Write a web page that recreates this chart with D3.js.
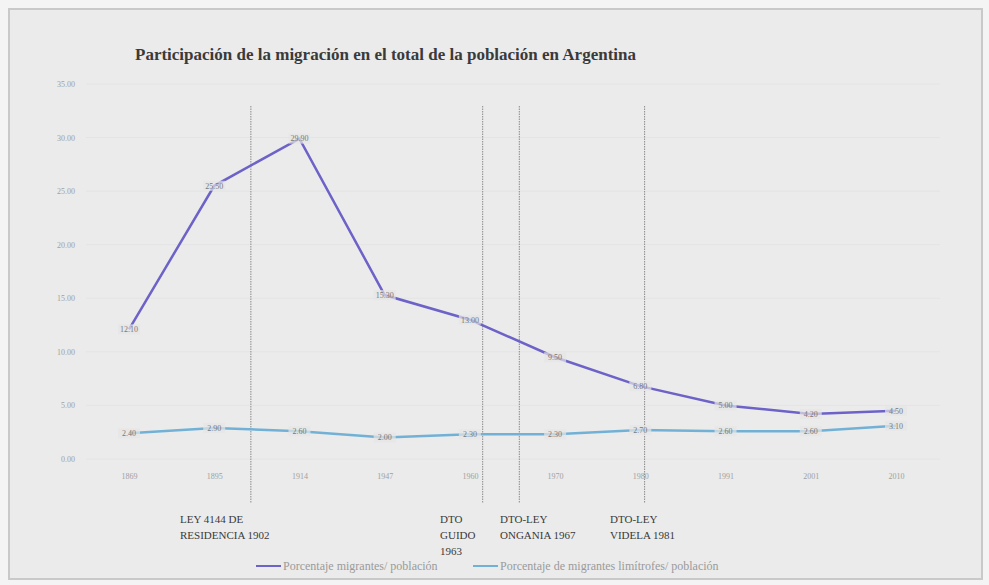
<!DOCTYPE html>
<html>
<head>
<meta charset="utf-8">
<script src="https://cdn.jsdelivr.net/npm/d3@7"></script>
<style>
  html, body { margin: 0; padding: 0; background: #f4f4f4; }
  svg text { font-family: "Liberation Serif", "DejaVu Serif", serif; }
</style>
</head>
<body>
<script>
// censos
var years = ["1869", "1895", "1914", "1947", "1960", "1970", "1980", "1991", "2001", "2010"];
var migrantes = [12.1, 25.5, 29.9, 15.3, 13.0, 9.5, 6.8, 5.0, 4.2, 4.5];
var limitrofes = [2.4, 2.9, 2.6, 2.0, 2.3, 2.3, 2.7, 2.6, 2.6, 3.1];
var yTicks = [0, 5, 10, 15, 20, 25, 30, 35];

// leyes (posicion en indice de censo, fraccional)
var eventPos = [1.43, 4.15, 4.58, 6.05];
var eventText = [
  ["LEY 4144 DE", "RESIDENCIA  1902"],
  ["DTO", "GUIDO", "1963"],
  ["DTO-LEY", "ONGANIA 1967"],
  ["DTO-LEY", "VIDELA 1981"]
];
var eventTextX = [180, 440, 500, 610];

var width = 989, height = 585;
var svg = d3.select("body").append("svg")
    .attr("width", width)
    .attr("height", height);

// marco
svg.append("rect")
    .attr("x", 9).attr("y", 9)
    .attr("width", 973).attr("height", 570)
    .attr("fill", "#ebebeb")
    .attr("stroke", "#c9c9c9")
    .attr("stroke-width", 2);

svg.append("text")
    .attr("x", 135).attr("y", 60)
    .attr("font-size", 17)
    .attr("font-weight", "bold")
    .attr("fill", "#3a3a3a")
    .text("Participación de la migración en el total de la población en Argentina");

var x = d3.scalePoint()
    .domain(years)
    .range([129, 896]);

var xi = d3.scaleLinear()
    .domain([0, years.length - 1])
    .range([129, 896]);

var y = d3.scaleLinear()
    .domain([0, 35])
    .range([459, 84]);

// grilla
svg.append("g").selectAll("line")
    .data(yTicks)
    .enter().append("line")
    .attr("x1", 86).attr("x2", 940)
    .attr("y1", d => y(d)).attr("y2", d => y(d))
    .attr("stroke", "#e4e4e4")
    .attr("stroke-width", 1);

var yAxis = svg.append("g")
    .attr("transform", "translate(80,0)")
    .call(d3.axisLeft(y).tickValues(yTicks).tickFormat(d3.format(".2f")).tickSize(0));
yAxis.select(".domain").remove();
yAxis.selectAll("text").attr("fill", "#a0a0a0").attr("font-size", 8).attr("dx", -2);

var xAxis = svg.append("g")
    .attr("transform", "translate(0,470)")
    .call(d3.axisBottom(x).tickSize(0));
xAxis.select(".domain").remove();
xAxis.selectAll("text").attr("fill", "#a0a0a0").attr("font-size", 8);

// lineas verticales
svg.append("g").selectAll("line")
    .data(eventPos)
    .enter().append("line")
    .attr("x1", d => xi(d)).attr("x2", d => xi(d))
    .attr("y1", 106).attr("y2", 503)
    .attr("stroke", "#8a8a8a")
    .attr("stroke-width", 1)
    .attr("stroke-dasharray", "1.5,1");

eventText.forEach(function(lines, i) {
  var t = svg.append("text")
      .attr("x", eventTextX[i]).attr("y", 523)
      .attr("font-size", 11)
      .attr("fill", "#3a3a3a");
  lines.forEach(function(l, j) {
    t.append("tspan").attr("x", eventTextX[i]).attr("dy", j == 0 ? 0 : 16).text(l);
  });
});

var line = d3.line()
    .x((d, i) => x(years[i]))
    .y(d => y(d));

var series = [
  {values: limitrofes, color: "#72b1d6"},
  {values: migrantes, color: "#6c62c8"}
];

series.forEach(function(s) {
  svg.append("path")
      .datum(s.values)
      .attr("d", line)
      .attr("fill", "none")
      .attr("stroke", s.color)
      .attr("stroke-width", 2.5);

  var lab = svg.append("g").selectAll("g")
      .data(s.values)
      .enter().append("g")
      .attr("transform", (d, i) => "translate(" + x(years[i]) + "," + y(d) + ")");
  lab.append("rect")
      .attr("x", -11).attr("y", -5)
      .attr("width", 22).attr("height", 10)
      .attr("fill", "#e6e6e6")
      .attr("opacity", 0.7);
  lab.append("text")
      .attr("text-anchor", "middle")
      .attr("dy", "0.35em")
      .attr("font-size", 8)
      .attr("fill", "#777")
      .text(d => d3.format(".2f")(d));
});

// leyenda
var legend = [
  {color: "#6c62c8", name: "Porcentaje migrantes/ población", x: 256},
  {color: "#72b1d6", name: "Porcentaje de migrantes limítrofes/ población", x: 473}
];
var lg = svg.append("g").selectAll("g")
    .data(legend)
    .enter().append("g")
    .attr("transform", d => "translate(" + d.x + ",566)");
lg.append("line")
    .attr("x1", 0).attr("x2", 25)
    .attr("stroke", d => d.color)
    .attr("stroke-width", 2);
lg.append("text")
    .attr("x", 27)
    .attr("dy", "0.35em")
    .attr("font-size", 12)
    .attr("fill", "#9a9a9a")
    .text(d => d.name);
</script>
</body>
</html>
